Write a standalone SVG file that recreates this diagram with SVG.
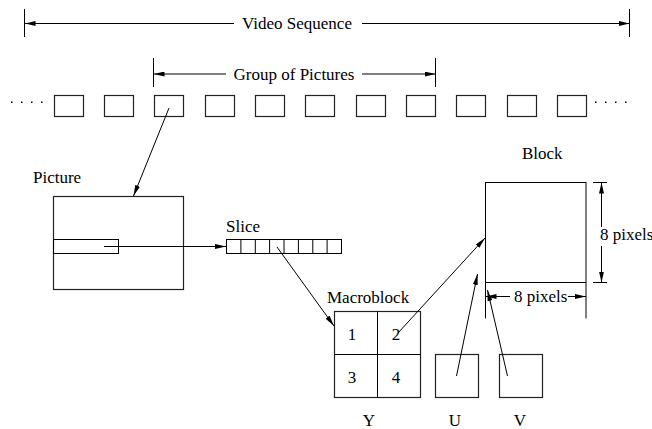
<svg xmlns="http://www.w3.org/2000/svg" width="652" height="429" viewBox="0 0 652 429">
<defs>
<marker id="ah" viewBox="0 0 11 5" refX="11" refY="2.5" markerWidth="11" markerHeight="5" markerUnits="userSpaceOnUse" orient="auto"><path d="M0,0 L11,2.5 L0,5 z" fill="#000"/></marker>
<style>
text{font-family:'Liberation Serif','Times New Roman',Times,serif;font-size:17px;fill:#000}
.s{fill:none;stroke:#000;stroke-width:1}
.b{fill:#fff;stroke:#222;stroke-width:1.2}
.a{fill:none;stroke:#000;stroke-width:1;marker-end:url(#ah)}
.m{text-anchor:middle}
</style>
</defs>
<rect width="652" height="429" fill="#fff"/>
<g font-family="Liberation Serif, Times New Roman, serif">
<g id="video-sequence">
<line class="s" x1="24.5" y1="9" x2="24.5" y2="37"/>
<line class="s" x1="629.5" y1="9" x2="629.5" y2="37"/>
<line class="a" x1="234" y1="23.5" x2="24.5" y2="23.5"/>
<line class="a" x1="362" y1="23.5" x2="629.5" y2="23.5"/>
<text class="m" x="297" y="29">Video Sequence</text>
</g>
<g id="group-of-pictures">
<line class="s" x1="153.5" y1="58" x2="153.5" y2="87"/>
<line class="s" x1="435.5" y1="58" x2="435.5" y2="87"/>
<line class="a" x1="226" y1="74" x2="153.5" y2="74"/>
<line class="a" x1="362" y1="74" x2="435.5" y2="74"/>
<text class="m" x="294" y="80">Group of Pictures</text>
</g>
<g id="picture-sequence">
<rect class="b" x="54.5" y="95.5" width="29" height="21"/>
<rect class="b" x="104.5" y="95.5" width="29" height="21"/>
<rect class="b" x="154.5" y="95.5" width="29" height="21"/>
<rect class="b" x="205.5" y="95.5" width="29" height="21"/>
<rect class="b" x="255.5" y="95.5" width="29" height="21"/>
<rect class="b" x="305.5" y="95.5" width="29" height="21"/>
<rect class="b" x="356.5" y="95.5" width="29" height="21"/>
<rect class="b" x="406.5" y="95.5" width="29" height="21"/>
<rect class="b" x="456.5" y="95.5" width="29" height="21"/>
<rect class="b" x="507.5" y="95.5" width="29" height="21"/>
<rect class="b" x="557.5" y="95.5" width="29" height="21"/>
<g fill="#000">
<rect x="11" y="101.5" width="1.5" height="1.5"/><rect x="21" y="101.5" width="1.5" height="1.5"/><rect x="31" y="101.5" width="1.5" height="1.5"/><rect x="41" y="101.5" width="1.5" height="1.5"/>
<rect x="595" y="101.5" width="1.5" height="1.5"/><rect x="605" y="101.5" width="1.5" height="1.5"/><rect x="615" y="101.5" width="1.5" height="1.5"/><rect x="625" y="101.5" width="1.5" height="1.5"/>
</g>
</g>
<g id="picture">
<text x="33" y="183">Picture</text>
<rect class="b" x="53.5" y="196.5" width="130" height="93"/>
<rect class="s" x="53.5" y="239.5" width="65" height="14"/>
</g>
<g id="slice">
<text x="226" y="232">Slice</text>
<rect class="s" x="226.5" y="239.5" width="115" height="14"/>
<path class="s" d="M240.9,239.5v14M255.3,239.5v14M269.6,239.5v14M284,239.5v14M298.4,239.5v14M312.8,239.5v14M327.1,239.5v14"/>
</g>
<g id="macroblock">
<text x="327" y="303">Macroblock</text>
<rect class="b" x="334.5" y="311.5" width="86" height="86"/>
<path class="s" d="M377.5,311.5v86M334.5,354.5h86"/>
<text class="m" x="352" y="340">1</text>
<text class="m" x="396" y="340">2</text>
<text class="m" x="352" y="383">3</text>
<text class="m" x="396" y="383">4</text>
<text class="m" x="369" y="426">Y</text>
</g>
<g id="u">
<rect class="b" x="435.5" y="354.5" width="43" height="43"/>
<text class="m" x="455" y="426">U</text>
</g>
<g id="v">
<rect class="b" x="499.5" y="354.5" width="43" height="43"/>
<text class="m" x="520" y="426">V</text>
</g>
<g id="block">
<text x="522" y="159">Block</text>
<rect class="s" x="485.5" y="182.5" width="100.5" height="100"/>
<path class="s" d="M593,182.5h14M593,282.5h14M485.5,282.5v36M586,282.5v36"/>
<line class="a" x1="601.5" y1="227" x2="601.5" y2="182.5"/>
<line class="a" x1="601.5" y1="246" x2="601.5" y2="282.5"/>
<text x="600" y="240">8 pixels</text>
<line class="a" x1="510" y1="296.5" x2="485.5" y2="296.5"/>
<line class="a" x1="568" y1="296.5" x2="586" y2="296.5"/>
<text x="514" y="302">8 pixels</text>
</g>
</g>
<g id="connectors">
<line class="a" x1="169" y1="108" x2="133.5" y2="196"/>
<line class="a" x1="104" y1="246.5" x2="226" y2="246.5"/>
<line class="a" x1="277" y1="247" x2="334" y2="326"/>
<line class="a" x1="398" y1="333" x2="485" y2="238"/>
<line class="a" x1="456.5" y1="376" x2="477.5" y2="274"/>
<line class="a" x1="507.5" y1="376" x2="487.5" y2="290"/>
</g>
</svg>
